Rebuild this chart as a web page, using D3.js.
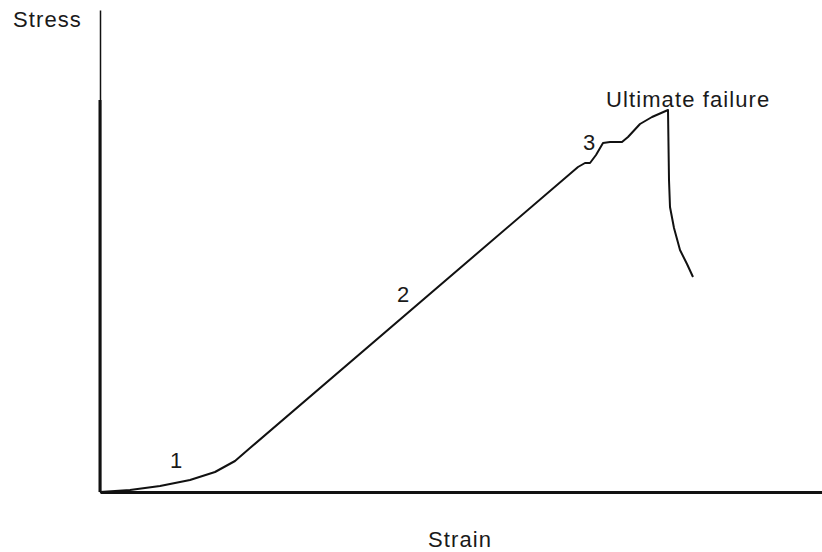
<!DOCTYPE html>
<html>
<head>
<meta charset="utf-8">
<script src="https://d3js.org/d3.v7.min.js"></script>
<style>
    body { margin: 0; background: #fff; }
    .lbl { font-family: 'Liberation Sans', Arial, sans-serif; font-size: 22px; fill: #1a1a1a; letter-spacing: 1.1px; }
</style>
</head>
<body>
<script>
// strain (x) and stress (y) in arbitrary units
var strain = [0, 30, 60, 90, 115, 135, 150, 478, 485, 490, 496, 503, 510, 522, 528, 540, 552, 568, 569, 570, 574, 580, 587, 593];
var stress = [0, 2, 6, 12, 20, 31, 44, 325, 329, 329, 337, 349, 350, 350, 355, 368, 375, 382, 312, 285, 264, 242, 228, 215];
var labels = [
    {text: "1", x: 70, y: 24},
    {text: "2", x: 297, y: 190},
    {text: "3", x: 483, y: 342},
    {text: "Ultimate failure", x: 506, y: 385}
];

var svg = d3.select("body").append("svg")
    .attr("width", 822)
    .attr("height", 552);

var x = d3.scaleLinear().domain([0, 722]).range([100, 822]);
var y = d3.scaleLinear().domain([0, 482]).range([492, 10]);

// axes without ticks
svg.append("g")
    .attr("transform", "translate(0,492)")
    .call(d3.axisBottom(x).ticks(0).tickSizeOuter(0))
    .select(".domain").attr("stroke", "#111").attr("stroke-width", 3);

svg.append("g")
    .attr("transform", "translate(100,0)")
    .call(d3.axisLeft(y).ticks(0).tickSizeOuter(0))
    .select(".domain").attr("stroke", "#111").attr("stroke-width", 1.5);

// heavier lower part of the stress axis
svg.append("line")
    .attr("x1", x(0)).attr("x2", x(0))
    .attr("y1", y(392)).attr("y2", y(0))
    .attr("stroke", "#111").attr("stroke-width", 3);

var line = d3.line()
    .x(function(d, i) { return x(strain[i]); })
    .y(function(d) { return y(d); });

svg.append("path")
    .datum(stress)
    .attr("fill", "none")
    .attr("stroke", "#111")
    .attr("stroke-width", 2)
    .attr("stroke-linejoin", "round")
    .attr("d", line);

svg.selectAll(".note")
    .data(labels)
    .enter().append("text")
    .attr("class", "lbl note")
    .attr("x", function(d) { return x(d.x); })
    .attr("y", function(d) { return y(d.y); })
    .text(function(d) { return d.text; });

svg.append("text")
    .attr("class", "lbl")
    .attr("x", 13).attr("y", 27)
    .text("Stress");

svg.append("text")
    .attr("class", "lbl")
    .attr("x", 428).attr("y", 547)
    .text("Strain");
</script>
</body>
</html>
